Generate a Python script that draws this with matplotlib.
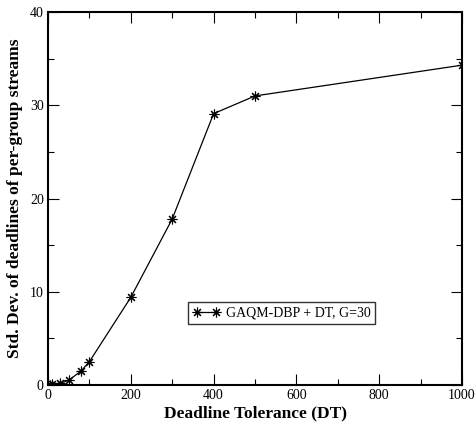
import matplotlib
matplotlib.use("Agg")
import matplotlib.pyplot as plt
from matplotlib.ticker import MultipleLocator

plt.rcParams['font.family'] = ['Liberation Serif', 'DejaVu Serif']

# Deadline tolerance vs std. dev. of deadlines
dt = [0, 5, 10, 30, 50, 80, 100, 200, 300, 400, 500, 1000]
std_dev = [0.0, 0.05, 0.1, 0.2, 0.5, 1.5, 2.5, 9.4, 17.8, 29.1, 31.0, 34.3]
series_label = 'GAQM-DBP + DT, G=30'

fig = plt.figure(figsize=(4.77, 4.32), dpi=100)
ax = fig.add_axes([0.1006, 0.1088, 0.868, 0.8634])

ax.plot(dt, std_dev, color='black', lw=0.9, marker=(8, 2, 0),
        markersize=7, markeredgewidth=0.8, label=series_label)

ax.set_xlim(0, 1000)
ax.set_ylim(0, 40)
ax.xaxis.set_major_locator(MultipleLocator(200))
ax.xaxis.set_minor_locator(MultipleLocator(100))
ax.yaxis.set_major_locator(MultipleLocator(10))
ax.yaxis.set_minor_locator(MultipleLocator(5))
ax.tick_params(which='both', direction='in', top=True, right=True,
               labelsize=10, pad=3)
ax.tick_params(which='major', length=8, width=0.8)
ax.tick_params(which='minor', length=4, width=0.8)
for s in ax.spines.values():
    s.set_linewidth(1.5)

ax.set_xlabel('Deadline Tolerance (DT)', fontsize=12.5, fontweight='bold', labelpad=2)
ax.set_ylabel('Std. Dev. of deadlines of per-group streams', fontsize=12.5,
              fontweight='bold', labelpad=5)

leg = ax.legend(loc='center', bbox_to_anchor=(0.564, 0.193), fontsize=10,
                frameon=True, fancybox=False, edgecolor='black', numpoints=2,
                handlelength=2.0, borderpad=0.35, handletextpad=0.4)
leg.get_frame().set_linewidth(1.0)

fig.savefig('out.png', dpi=100)
